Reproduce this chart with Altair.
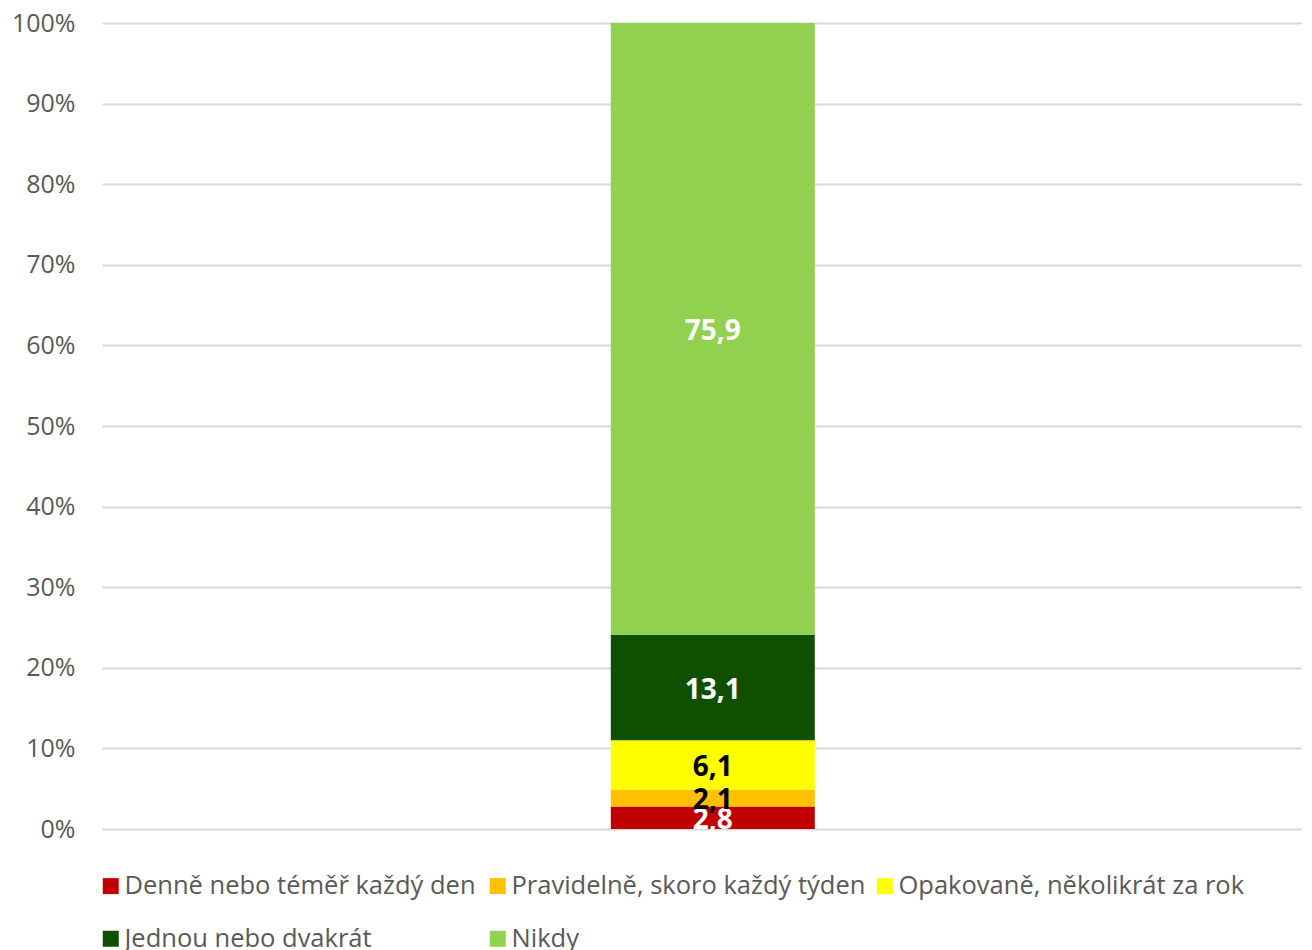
import altair as alt
import pandas as pd

categories = ["Denně nebo téměř každý den", "Pravidelně, skoro každý týden",
              "Opakovaně, několikrát za rok", "Jednou nebo dvakrát", "Nikdy"]
values = [2.8, 2.1, 6.1, 13.1, 75.9]
colors = ["#C00000", "#FFC000", "#FFFF00", "#0F5000", "#92D050"]
label_colors = ["#FFFFFF", "#000000", "#000000", "#FFFFFF", "#FFFFFF"]

df = pd.DataFrame({
    "kat": categories,
    "v": values,
    "idx": list(range(len(categories))),
    "lc": label_colors,
    "bar": ["A"] * len(categories),
})

FONT = "Open Sans"

xenc = alt.X("bar:N", axis=None,
             scale=alt.Scale(paddingInner=0, paddingOuter=0.5, align=0.518))

base = alt.Chart(df)

bars = base.mark_bar(size=204).encode(
    x=xenc,
    y=alt.Y("v:Q", stack="zero",
            scale=alt.Scale(domain=[0, 100], nice=False),
            axis=alt.Axis(values=list(range(0, 101, 10)), labelExpr="datum.value + '%'",
                          title=None, ticks=False, domain=False, labelPadding=27,
                          labelFontSize=25, labelColor="#595959", labelFont=FONT,
                          gridColor="#D9D9D9", gridWidth=2)),
    color=alt.Color("kat:N", sort=categories,
                    scale=alt.Scale(domain=categories, range=colors),
                    legend=alt.Legend(title=None, orient="none", legendX=-4, legendY=850,
                                      direction="horizontal", columns=3,
                                      symbolType="square", symbolSize=256,
                                      symbolStrokeWidth=0, labelOffset=1,
                                      labelFontSize=25.5, labelColor="#595959",
                                      labelFont=FONT, columnPadding=6, rowPadding=26,
                                      gridAlign="all", labelLimit=500, padding=0)),
    order=alt.Order("idx:Q", sort="ascending"),
)

labels = base.transform_window(
    cum="sum(v)", sort=[alt.SortField("idx")], frame=[None, 0]
).transform_calculate(
    mid="datum.cum - datum.v / 2",
    txt="replace(format(datum.v, '.1f'), '.', ',')",
).mark_text(font=FONT, fontWeight="bold", fontSize=28, baseline="middle", dy=3).encode(
    x=xenc,
    y=alt.Y("mid:Q"),
    text="txt:N",
    color=alt.Color("lc:N", scale=None, legend=None),
)

chart = alt.layer(bars, labels).properties(
    width=1200, height=806,
    padding={"left": 3, "top": 3, "right": 0, "bottom": 0},
).configure_view(stroke=None)

chart.save("out.html", embed_options={"renderer": "svg", "actions": False})
